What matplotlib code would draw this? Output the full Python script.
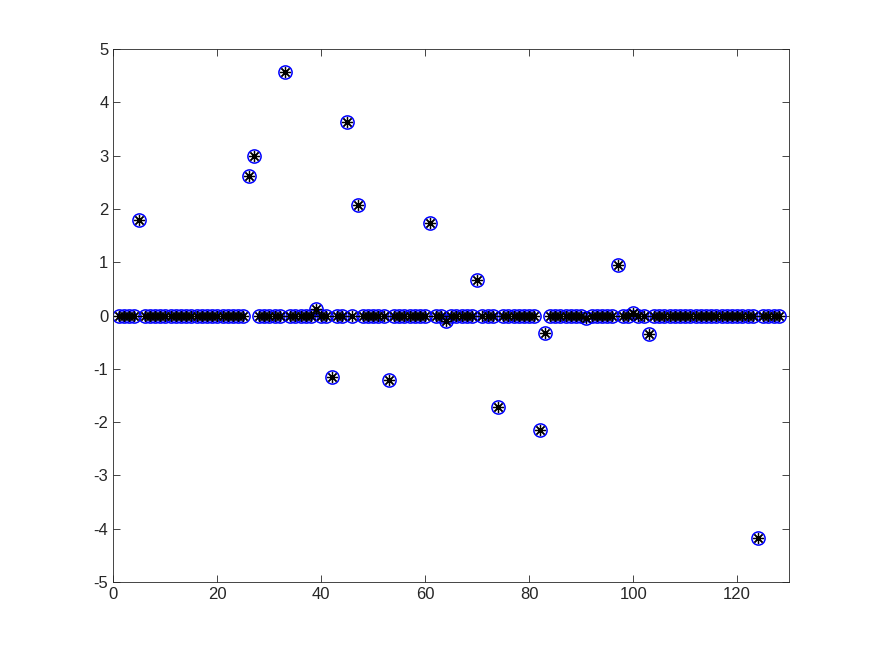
import numpy as np
import matplotlib
matplotlib.use("Agg")
import matplotlib.pyplot as plt

plt.rcParams['font.family'] = ['Liberation Sans', 'DejaVu Sans']

# sinal esparso de 128 amostras: posições (1-based) e valores não nulos
N = 128
idx_nz = [5, 26, 27, 33, 39, 42, 45, 47, 53, 61, 64, 70, 74, 82, 83, 91, 97, 100, 103, 124]
val_orig = [1.79, 2.61, 2.99, 4.57, 0.13, -1.15, 3.64, 2.07, -1.21, 1.73, -0.10, 0.66,
            -1.72, -2.15, -0.32, -0.05, 0.95, 0.05, -0.35, -4.18]
val_rec = [1.79, 2.61, 2.99, 4.57, 0.13, -1.15, 3.64, 2.07, -1.21, 1.73, -0.10, 0.66,
           -1.72, -2.15, -0.32, -0.05, 0.95, 0.05, -0.35, -4.18]

x_orig = np.zeros(N)
x_rec = np.zeros(N)
x_orig[np.array(idx_nz) - 1] = val_orig
x_rec[np.array(idx_nz) - 1] = val_rec
n = np.arange(1, N + 1)

fig = plt.figure(figsize=(8.72, 6.54), dpi=100)
ax = fig.add_axes([0.13, 0.11, 0.775, 0.815])
ax.plot(n, x_orig, 'o', color='blue', markerfacecolor='none', markersize=9.5, markeredgewidth=1.1)
ax.plot(n, x_rec, linestyle='none', marker=(8, 2, 0), color='black', markersize=8, markeredgewidth=0.9)

ax.set_xlim(0, 130)
ax.set_ylim(-5, 5)
ax.set_xticks(np.arange(0, 121, 20))
ax.set_yticks(np.arange(-5, 6, 1))
ax.set_yticklabels([str(v) for v in range(-5, 6)])
ax.tick_params(direction='in', top=True, right=True, length=5, width=0.6,
               colors='#262626', labelsize=12, labelcolor='#262626')
for s in ax.spines.values():
    s.set_color('#262626')
    s.set_linewidth(0.6)

fig.savefig("out.png", dpi=100)
